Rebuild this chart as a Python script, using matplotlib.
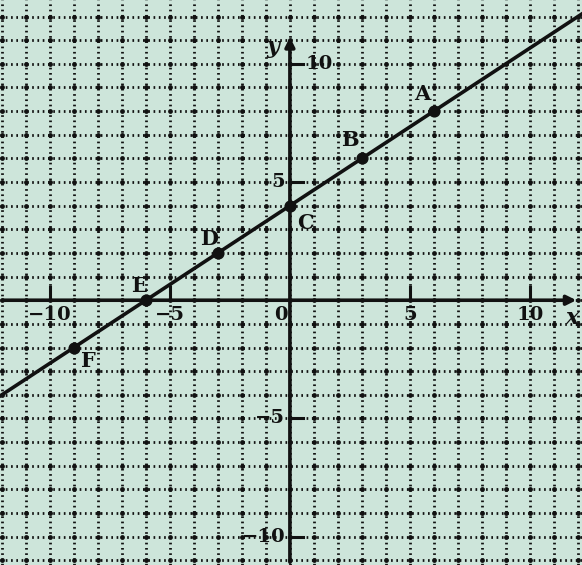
import matplotlib
matplotlib.use("Agg")
import matplotlib.pyplot as plt
import numpy as np

# data
point_labels = ["A", "B", "C", "D", "E", "F"]
point_x = [6, 3, 0, -3, -6, -9]
point_y = [8, 6, 4, 2, 0, -2]
x_ticks = [-10, -5, 5, 10]
y_ticks = [-10, -5, 5, 10]
grid_x = list(range(-12, 13))
grid_y = list(range(-12, 13))

BG = "#cde5da"
INK = "#111111"

fig = plt.figure(figsize=(5.82, 5.65), dpi=100, facecolor=BG)
ax = fig.add_axes([0, 0, 1, 1])
ax.set_facecolor(BG)
ax.set_xlim(-12.08, 12.17)
ax.set_ylim(-11.2, 12.7)
ax.axis("off")

# dotted grid
for gx in grid_x:
    ax.axvline(gx, color=INK, lw=2.0, ls=(0, (0.6, 1.3)), zorder=1)
for gy in grid_y:
    ax.axhline(gy, color=INK, lw=2.0, ls=(0, (0.6, 1.3)), zorder=1)
GX, GY = np.meshgrid(grid_x, grid_y)
ax.scatter(GX.ravel(), GY.ravel(), s=12, color=INK, zorder=1.5, linewidths=0)

# axes
ax.annotate("", xy=(12.05, 0), xytext=(-12.08, 0),
            arrowprops=dict(arrowstyle="-|>", color=INK, lw=2.6, mutation_scale=14), zorder=3)
ax.annotate("", xy=(0, 11.25), xytext=(0, -11.2),
            arrowprops=dict(arrowstyle="-|>", color=INK, lw=2.6, mutation_scale=14), zorder=3)

font = dict(family="DejaVu Serif", fontweight="bold", color=INK)

# ticks and labels
for t in x_ticks:
    ax.plot([t, t], [0, 0.55], color=INK, lw=2.2, zorder=3)
    ax.text(t, -0.25, "\u2212" + str(-t) if t < 0 else str(t), ha="center", va="top",
            fontsize=14, zorder=4, **font)
for t in y_ticks:
    ax.plot([0, 0.55], [t, t], color=INK, lw=2.2, zorder=3)
    if t == 10:
        ax.text(0.65, t, str(t), ha="left", va="center", fontsize=14, zorder=4, **font)
    else:
        ax.text(-0.2, t, "\u2212" + str(-t) if t < 0 else str(t), ha="right", va="center",
                fontsize=14, zorder=4, **font)
ax.text(-0.1, -0.25, "0", ha="right", va="top", fontsize=14, zorder=4, **font)
ax.text(-0.45, 10.7, "y", ha="right", va="center", fontsize=16, style="italic", zorder=4, **font)
ax.text(11.75, -0.3, "x", ha="center", va="top", fontsize=16, style="italic", zorder=4, **font)

# line through points
ax.axline((point_x[0], point_y[0]), (point_x[-1], point_y[-1]), color=INK, lw=2.6, zorder=3)
ax.scatter(point_x, point_y, s=60, color=INK, zorder=5)

offsets = {"A": (-0.15, 0.3, "right", "bottom"),
           "B": (-0.15, 0.35, "right", "bottom"),
           "C": (0.3, -0.3, "left", "top"),
           "D": (0.0, 0.15, "right", "bottom"),
           "E": (0.05, 0.2, "right", "bottom"),
           "F": (0.3, -0.15, "left", "top")}
for lab, px, py in zip(point_labels, point_x, point_y):
    dx, dy, ha, va = offsets[lab]
    ax.text(px + dx, py + dy, lab, ha=ha, va=va, fontsize=15, zorder=6, **font)

fig.savefig("out.png", dpi=100, facecolor=BG)
